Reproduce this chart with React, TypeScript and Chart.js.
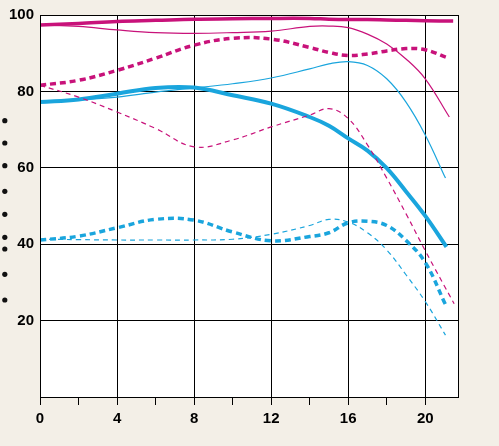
import React, { useEffect, useRef } from "react";
import { Chart, registerables } from "chart.js";

Chart.register(...registerables);

// hour positions (last entry of each series sits at that series' own end hour)
const hours = [0, 2, 4, 6, 8, 10, 12, 14, 15, 16, 17, 18, 19, 20];
const endHours = [21.45, 21.25, 21.1, 21.5, 21.1, 21.05, 21.05, 21.05];

const magentaSolidThick = [97.4, 97.8, 98.3, 98.6, 98.9, 99.0, 99.1, 99.1, 98.9, 98.8, 98.8, 98.7, 98.6, 98.5, 98.4];
const magentaSolidThin = [97.4, 97.0, 96.1, 95.4, 95.2, 95.4, 95.8, 97.0, 97.1, 96.7, 95.0, 92.4, 88.5, 83.3, 73.3];
const magentaDashThick = [81.6, 82.9, 85.5, 88.7, 92.1, 93.9, 93.7, 91.5, 90.2, 89.4, 89.8, 90.6, 91.2, 90.9, 88.9];
const magentaDashThin = [81.6, 78.5, 74.6, 70.3, 65.5, 67.3, 70.7, 73.8, 75.5, 72.9, 66.0, 57.3, 48.0, 38.3, 24.4];
const cyanSolidThick = [77.2, 77.9, 79.4, 80.9, 81.0, 79.0, 76.8, 73.3, 71.0, 67.7, 64.5, 59.9, 53.8, 47.4, 39.3];
const cyanSolidThin = [77.2, 77.8, 78.5, 79.8, 80.9, 82.0, 83.5, 85.9, 87.2, 87.8, 86.8, 83.3, 77.2, 68.6, 57.3];
const cyanDashThick = [41.1, 42.1, 44.3, 46.5, 46.3, 43.2, 40.9, 42.0, 43.0, 45.6, 46.0, 44.9, 41.0, 35.2, 24.2];
const cyanDashThin = [41.3, 41.2, 41.1, 41.1, 41.1, 41.3, 42.6, 44.9, 46.5, 45.8, 43.0, 38.5, 32.0, 25.0, 16.2];

const xTicksMajor = [0, 4, 8, 12, 16, 20];
const yTickLabels = [20, 40, 60, 80, 100];

const MAGENTA = "#C8127A";
const CYAN = "#1AA5DD";
const BG = "#F3EFE7";

function pts(values: number[], endHour: number) {
  return values.map((v, i) => ({ x: i < hours.length ? hours[i] : endHour, y: v }));
}

const framePlugin = {
  id: "frame",
  beforeDraw(chart: any) {
    const { ctx, chartArea: a } = chart;
    ctx.save();
    ctx.fillStyle = BG;
    ctx.fillRect(0, 0, chart.width, chart.height);
    ctx.fillStyle = "#FFFFFF";
    ctx.fillRect(a.left, a.top, a.right - a.left, a.bottom - a.top);
    ctx.restore();
  },
  afterDraw(chart: any) {
    const { ctx, chartArea: a } = chart;
    ctx.save();
    ctx.strokeStyle = "#000";
    ctx.lineWidth = 1;
    ctx.strokeRect(Math.round(a.left) + 0.5, Math.round(a.top) + 0.5, Math.round(a.right - a.left), Math.round(a.bottom - a.top));
    // stray legend bullets at the left edge
    ctx.fillStyle = "#111";
    [120.7, 143, 165.7, 191.3, 214.3, 237.3, 249, 274.3, 300].forEach((y) => {
      ctx.beginPath();
      ctx.arc(4.8, y, 2.6, 0, Math.PI * 2);
      ctx.fill();
    });
    ctx.restore();
  },
};

export default function App() {
  const ref = useRef<HTMLCanvasElement | null>(null);

  useEffect(() => {
    document.body.style.margin = "0";
    document.body.style.background = BG;
    if (!ref.current) return;
    const mk = (label: string, data: number[], idx: number, color: string, width: number, dash: number[]) => ({
      label,
      data: pts(data, endHours[idx]),
      borderColor: color,
      backgroundColor: color,
      borderWidth: width,
      borderDash: dash,
      pointRadius: 0,
      fill: false,
      tension: 0.4,
      borderCapStyle: "butt" as const,
    });
    const chart = new Chart(ref.current, {
      type: "line",
      data: {
        datasets: [
          mk("m1", magentaSolidThick, 0, MAGENTA, 3.5, []),
          mk("m2", magentaSolidThin, 1, MAGENTA, 1.2, []),
          mk("m3", magentaDashThick, 2, MAGENTA, 3.5, [6, 4]),
          mk("m4", magentaDashThin, 3, MAGENTA, 1.2, [5, 4]),
          mk("c1", cyanSolidThick, 4, CYAN, 4, []),
          mk("c2", cyanSolidThin, 5, CYAN, 1.2, []),
          mk("c3", cyanDashThick, 6, CYAN, 3.5, [6, 4]),
          mk("c4", cyanDashThin, 7, CYAN, 1.2, [5, 4]),
        ] as any,
      },
      options: {
        animation: false,
        responsive: false,
        devicePixelRatio: 1,
        layout: { padding: { top: 12, right: 41, left: 0, bottom: 0 } },
        plugins: { legend: { display: false }, tooltip: { enabled: false } },
        scales: {
          x: {
            type: "linear",
            min: 0,
            max: 21.7,
            afterFit: (s: any) => {
              s.height = 49;
            },
            ticks: {
              stepSize: 2,
              includeBounds: false,
              autoSkip: false,
              maxRotation: 0,
              padding: 5,
              color: "#000",
              font: { family: "Liberation Sans", weight: "bold", size: 15 },
              callback: (v: any) => (xTicksMajor.includes(Number(v)) ? String(v) : ""),
            },
            grid: {
              color: (c: any) => (c.tick && xTicksMajor.includes(c.tick.value) ? "#000" : "rgba(0,0,0,0)"),
              tickColor: "#000",
              tickLength: 8,
              lineWidth: 1,
            },
            border: { color: "#000", width: 1 },
          },
          y: {
            type: "linear",
            min: 0,
            max: 100,
            afterFit: (s: any) => {
              s.width = 40;
            },
            ticks: {
              stepSize: 20,
              padding: 6,
              color: "#000",
              font: { family: "Liberation Sans", weight: "bold", size: 15 },
              callback: (v: any) => (yTickLabels.includes(Number(v)) ? String(v) : ""),
            },
            grid: { color: "#000", lineWidth: 1, drawTicks: false },
            border: { color: "#000", width: 1 },
          },
        },
      },
      plugins: [framePlugin],
    });
    return () => chart.destroy();
  }, []);

  return (
    <div style={{ width: 499, height: 446, background: BG }}>
      <canvas ref={ref} width={499} height={446} style={{ display: "block" }} />
    </div>
  );
}
